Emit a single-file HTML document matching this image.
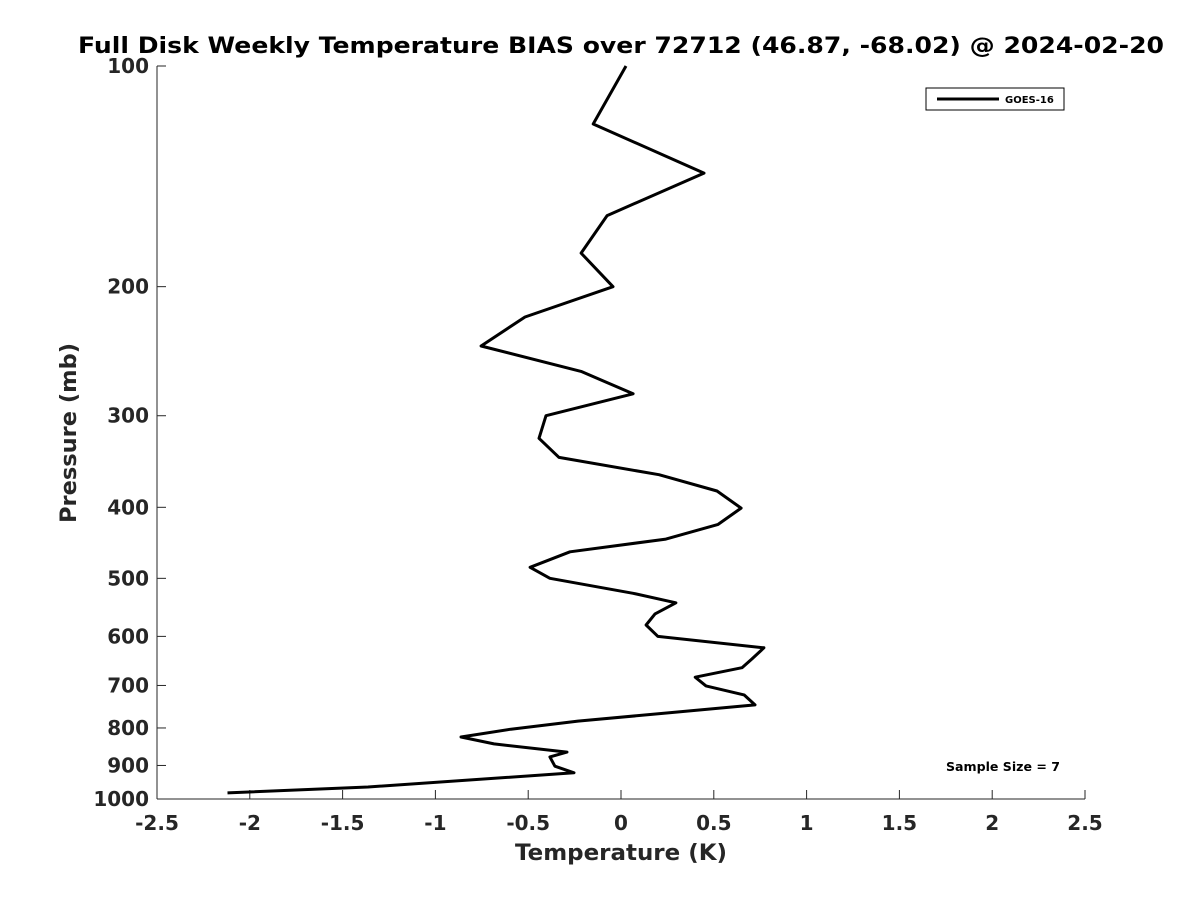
<!DOCTYPE html>
<html><head><meta charset="utf-8"><style>
body{margin:0;background:#fff;font-family:"DejaVu Sans",sans-serif}
svg text{font-family:"DejaVu Sans","Liberation Sans",sans-serif;font-weight:bold;fill:#262626}
</style></head><body>
<svg width="1200" height="900" xmlns="http://www.w3.org/2000/svg">
<rect width="1200" height="900" fill="#fff"/>
<text x="78" y="53" font-size="22" textLength="1086" lengthAdjust="spacingAndGlyphs" style="fill:#000">Full Disk Weekly Temperature BIAS over 72712 (46.87, -68.02) @ 2024-02-20</text>
<g id="axes"></g>
<path id="line" fill="none" stroke="#000" stroke-width="3" stroke-linejoin="round"/>
<g>
<rect x="926" y="88" width="138" height="22" fill="#fff" stroke="#000" stroke-width="1"/>
<line x1="937" y1="99" x2="999" y2="99" stroke="#000" stroke-width="3"/>
<text x="1005" y="103" font-size="10" style="fill:#000">GOES-16</text>
</g>
<text x="946" y="771" font-size="12" textLength="114" lengthAdjust="spacingAndGlyphs" style="fill:#000">Sample Size = 7</text>
<text x="515" y="860" font-size="22" textLength="212" lengthAdjust="spacingAndGlyphs">Temperature (K)</text>
<text transform="translate(76,523) rotate(-90)" font-size="22" textLength="180" lengthAdjust="spacingAndGlyphs">Pressure (mb)</text>
</svg>
<script>
const temps=[0.027,-0.15,0.447,-0.075,-0.215,-0.043,-0.517,-0.754,-0.215,0.065,-0.404,-0.442,-0.334,0.205,0.517,0.647,0.523,0.242,-0.275,-0.49,-0.383,0.065,0.296,0.183,0.135,0.199,0.77,0.706,0.652,0.4,0.458,0.663,0.722,0.253,-0.232,-0.593,-0.862,-0.684,-0.291,-0.383,-0.356,-0.253,-1.363,-2.12];
const pressures=[100,120,140,160,180,200,220,241,261,280,300,322,342,361,380,401,422,442,460,483,500,524,540,559,579,600,622,644,662,682,701,721,744,763,783,803,823,841,863,876,902,921,963,981];
const xTicks=[-2.5,-2,-1.5,-1,-0.5,0,0.5,1,1.5,2,2.5];
const yTicks=[100,200,300,400,500,600,700,800,900,1000];
const X0=157,X1=1085,Y0=66,Y1=799;
const xs=v=>X0+(v+2.5)/5*(X1-X0);
const ys=p=>Y0+Math.log10(p/100)*(Y1-Y0);
const NS="http://www.w3.org/2000/svg";
const ax=document.getElementById('axes');
function mk(t,a){const e=document.createElementNS(NS,t);for(const k in a)e.setAttribute(k,a[k]);ax.appendChild(e);return e;}
const xl=mk('line',{x1:X0,y1:Y1,x2:X1,y2:Y1,stroke:'#262626','stroke-width':1});


const yl=mk('line',{x1:X0,y1:Y0,x2:X0,y2:Y1,stroke:'#262626','stroke-width':1});


xTicks.forEach(v=>{const x=xs(v);
mk('line',{x1:x,y1:Y1,x2:x,y2:Y1-9,stroke:'#262626'});
const t=mk('text',{x:x,y:Y1+31,'text-anchor':'middle','font-size':20});t.textContent=String(v);

});
yTicks.forEach(p=>{const y=ys(p);
mk('line',{x1:X0,y1:y,x2:X0+9,y2:y,stroke:'#262626'});
const t=mk('text',{x:X0-8,y:y+7,'text-anchor':'end','font-size':20});t.textContent=String(p);

});
document.getElementById('line').setAttribute('d',temps.map((v,i)=>(i?'L':'M')+xs(v).toFixed(1)+','+ys(pressures[i]).toFixed(1)).join(''));
</script>
</body></html>
